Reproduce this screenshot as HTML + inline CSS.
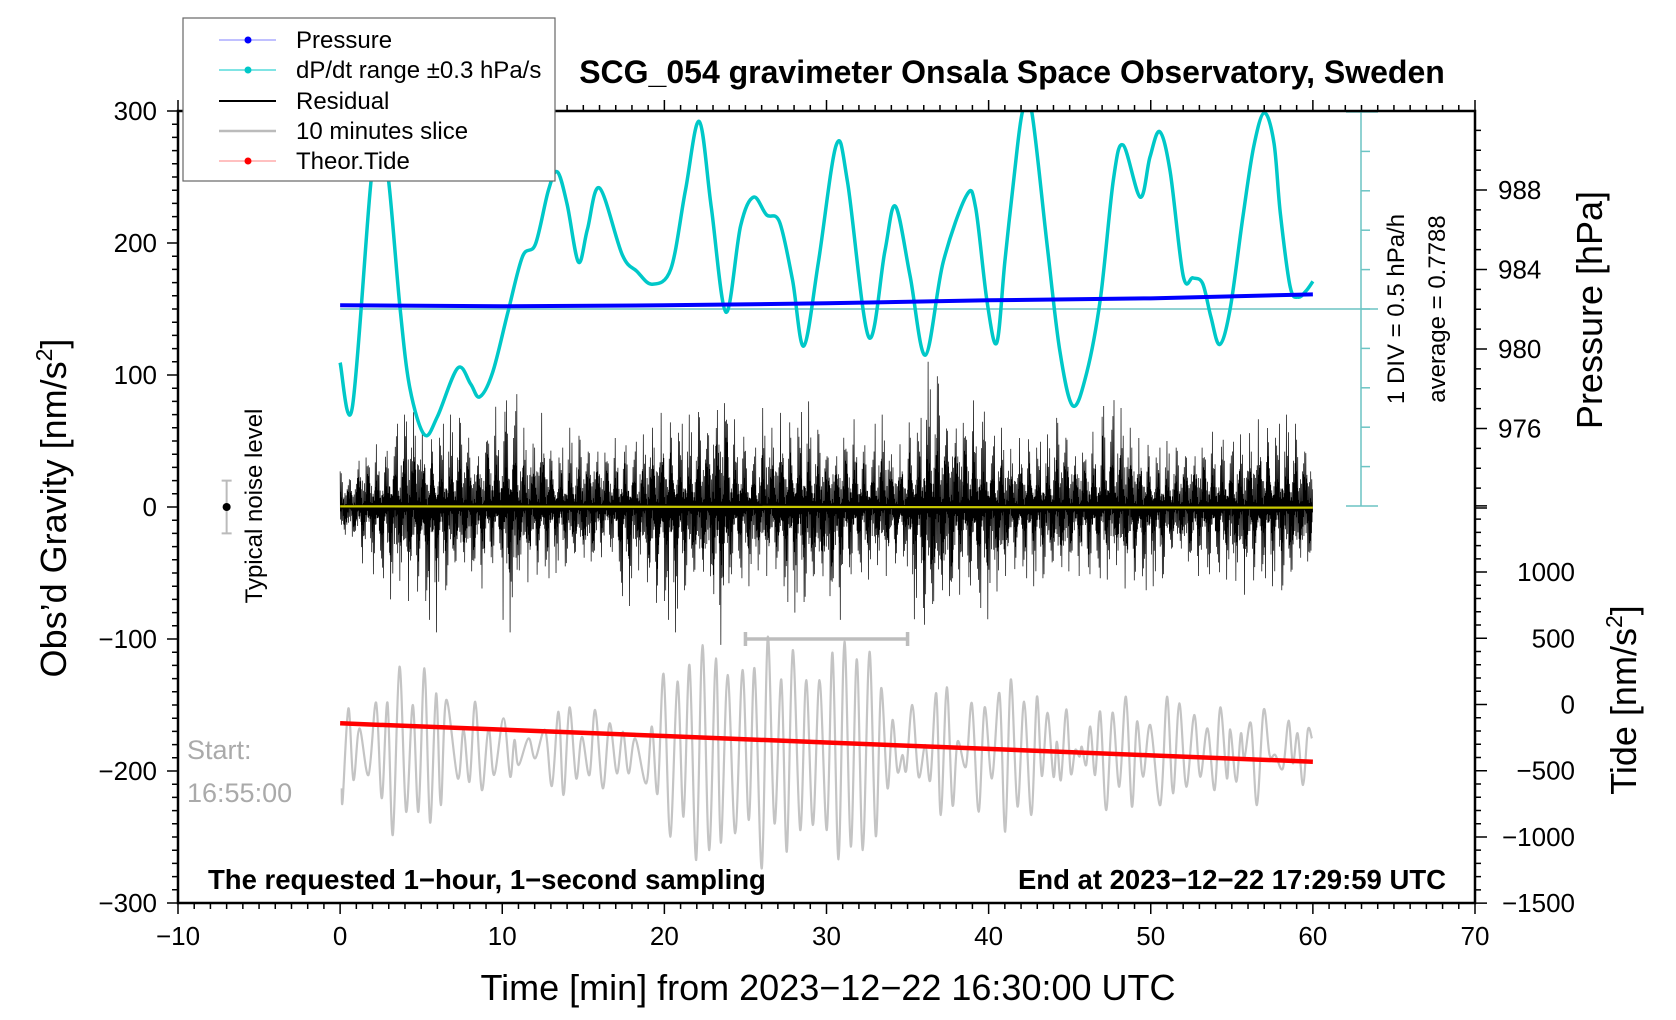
<!DOCTYPE html>
<html><head><meta charset="utf-8"><style>
html,body{margin:0;padding:0;background:#fff;}
svg{display:block;font-family:"Liberation Sans",sans-serif;}
</style></head><body>
<svg id="chart" width="1676" height="1020" viewBox="0 0 1676 1020" xmlns="http://www.w3.org/2000/svg">
<defs><clipPath id="plotclip"><rect x="178" y="111" width="1297" height="792"/></clipPath></defs>
<rect width="1676" height="1020" fill="#fff"/>
<g id="marks" clip-path="url(#plotclip)"></g>
<g id="axes"></g>
</svg>
<script>
// ---- data ----
const xTicks = [-10,0,10,20,30,40,50,60,70];
const xTickLabels = ["\u221210","0","10","20","30","40","50","60","70"];
const yTicks = [300,200,100,0,-100,-200,-300];
const yTickLabels = ["300","200","100","0","\u2212100","\u2212200","\u2212300"];
const pTicks = [988,984,980,976];
const tideTicks = [1000,500,0,-500,-1000,-1500];
const tideTickLabels = ["1000","500","0","\u2212500","\u22121000","\u22121500"];

const pressTime = [0,10,20,30,40,50,60];
const pressVals = [982.2,982.15,982.2,982.3,982.45,982.55,982.75];

const tideTime = [0,10,20,30,40,50,60];
const tideVals = [-142,-190,-238,-287,-335,-384,-432];

const dpTime = [0,0.75,1.9,2.45,3.0,3.7,4.3,5.2,6.0,7.25,8.05,8.6,9.4,10.35,11.25,12.05,12.85,13.4,14.0,14.7,15.25,16.0,17.4,18.3,19.25,20.4,21.3,22.15,22.9,23.8,24.7,25.5,26.3,27.1,27.9,28.6,29.5,30.6,31.3,32.6,33.6,34.25,35.15,36.1,37.2,38.65,39.2,39.9,40.5,41.0,41.6,42.1,42.65,43.6,44.4,45.2,46.05,46.9,47.7,48.3,49.35,49.95,50.55,51.2,52.0,52.6,53.2,53.7,54.25,54.9,55.7,56.35,57.0,57.6,58.0,58.6,59.1,59.6,60];
const dpDiv = [-1.36,-2.50,3.21,4.29,3.21,0.01,-2.00,-3.19,-2.73,-1.50,-1.90,-2.23,-1.62,-0.08,1.33,1.65,3.02,3.48,2.66,1.19,2.02,3.07,1.38,0.96,0.63,1.02,3.02,4.76,2.56,-0.08,2.11,2.84,2.39,2.21,0.74,-0.94,1.19,4.16,3.21,-0.71,1.47,2.61,0.85,-1.17,1.19,2.89,2.56,0.20,-0.86,1.19,3.48,5.03,5.03,1.65,-1.09,-2.46,-1.62,0.28,3.30,4.16,2.84,3.85,4.50,3.48,0.84,0.79,0.65,-0.18,-0.90,0.01,2.39,4.12,4.98,4.21,2.39,0.56,0.30,0.47,0.70];

const resUpper = [30,50,50,70,90,60,70,75,55,80,95,60,75,50,60,60,55,55,55,75,75,70,80,105,70,50,75,75,80,65,55,70,55,70,50,75,110,85,85,85,60,55,60,55,75,55,60,90,75,55,50,50,55,60,60,55,70,70,70,60];
const resLower = [-30,-45,-60,-70,-75,-95,-70,-60,-65,-50,-95,-60,-60,-50,-50,-55,-40,-75,-60,-85,-95,-70,-70,-110,-60,-60,-55,-80,-80,-75,-90,-60,-55,-55,-50,-85,-105,-90,-70,-85,-80,-55,-60,-60,-65,-55,-60,-55,-65,-70,-60,-45,-55,-60,-55,-70,-65,-60,-70,-55];
const resPatternA = [1,0.35,0.7,0.2,0.85,0.45,0.6,0.15,0.9,0.5,0.3,0.75,0.25,0.55,0.4,0.95,0.1];
const resPatternB = [0.9,0.55,1,0.4,0.7,0.3,0.8,0.6,0.45,1,0.35,0.65,0.5];

const sliceTime = [0.10,0.16,0.51,0.82,1.19,1.75,2.22,2.57,2.92,3.25,3.66,4.07,4.48,4.83,5.20,5.55,5.92,6.21,6.54,7.26,7.61,7.98,8.33,8.74,9.15,9.50,10.08,10.49,10.75,11.00,11.62,12.03,12.65,13.06,13.47,13.78,14.15,14.56,14.91,15.38,15.73,16.20,16.62,17.07,17.44,17.79,18.20,18.88,19.23,19.58,19.95,20.36,20.81,21.18,21.55,21.96,22.35,22.76,23.18,23.48,23.90,24.37,24.82,25.21,25.56,26.01,26.38,26.79,27.21,27.55,27.92,28.38,28.75,29.16,29.57,30.02,30.37,30.74,31.11,31.50,31.87,32.24,32.65,33.04,33.37,33.76,34.07,34.38,34.69,34.92,35.29,35.68,36.09,36.40,36.77,37.05,37.42,37.77,38.08,38.60,38.97,39.38,39.75,40.20,40.67,41.02,41.37,41.78,42.19,42.63,42.98,43.28,43.63,44.00,44.21,44.46,44.79,45.07,45.34,45.61,45.75,46.02,46.27,46.57,46.88,47.25,47.64,48.06,48.47,48.84,49.15,49.52,49.97,50.59,51.00,51.37,51.76,52.19,52.68,53.05,53.50,53.94,54.29,54.70,54.90,55.27,55.56,55.77,56.18,56.55,56.96,57.33,57.68,58.15,58.50,58.77,59.06,59.39,59.69,59.94];
const sliceVals = [-213.1,-222.0,-152.5,-206.8,-167.7,-203.0,-148.2,-220.7,-148.2,-248.5,-121.0,-230.8,-150.0,-230.8,-122.2,-239.2,-141.2,-225.8,-146.2,-205.6,-168.5,-208.1,-147.5,-214.4,-167.7,-203.0,-160.1,-204.3,-176.5,-195.5,-175.3,-190.4,-169.0,-211.4,-155.1,-218.2,-151.8,-205.6,-174.0,-203.0,-153.8,-213.1,-163.9,-201.8,-170.2,-201.8,-175.3,-209.4,-166.4,-217.0,-126.5,-249.8,-132.3,-234.6,-119.7,-267.4,-104.6,-259.9,-114.7,-254.3,-127.3,-247.2,-123.5,-237.1,-122.2,-273.8,-98.3,-239.7,-130.6,-261.1,-108.4,-244.7,-131.1,-240.9,-131.1,-244.7,-110.4,-266.9,-102.0,-257.3,-115.4,-259.9,-109.6,-249.3,-137.4,-213.1,-161.4,-200.5,-187.9,-199.3,-150.0,-204.3,-180.3,-206.8,-141.2,-233.3,-136.6,-225.8,-177.8,-196.7,-148.8,-230.8,-151.8,-205.6,-141.2,-246.0,-130.6,-227.0,-147.5,-233.3,-143.7,-203.8,-155.8,-204.3,-177.8,-206.8,-153.3,-201.8,-184.1,-189.2,-181.6,-195.5,-166.4,-203.0,-155.1,-229.6,-155.8,-211.9,-143.7,-227.0,-162.6,-204.3,-165.2,-225.8,-143.7,-216.9,-148.8,-211.9,-157.6,-204.3,-167.7,-214.4,-151.8,-205.6,-168.5,-208.1,-171.5,-190.4,-163.9,-225.8,-153.8,-187.9,-187.9,-198.0,-161.9,-194.2,-171.5,-210.6,-169.0,-175.3];

// ---- scales ----
const X0=178, X1=1475, YT=111, YB=903;
const xS = t => X0 + (t+10)*(X1-X0)/80;
const yS = v => 507 - v*1.32;
const pS = p => 190 + (988-p)*19.875;
const tideS = v => 704.5 - v*0.13244;
const divS = d => 309 - d*39.4;

const NS="http://www.w3.org/2000/svg";
function mk(tag, attrs, parent){const e=document.createElementNS(NS,tag);for(const k in attrs)e.setAttribute(k,attrs[k]);parent.appendChild(e);return e;}
function crPath(pts){let d="M"+pts[0][0].toFixed(1)+","+pts[0][1].toFixed(1);
 for(let i=0;i<pts.length-1;i++){const p0=pts[Math.max(0,i-1)],p1=pts[i],p2=pts[i+1],p3=pts[Math.min(pts.length-1,i+2)];
 const c1=[p1[0]+(p2[0]-p0[0])/6,p1[1]+(p2[1]-p0[1])/6],c2=[p2[0]-(p3[0]-p1[0])/6,p2[1]-(p3[1]-p1[1])/6];
 d+="C"+c1[0].toFixed(1)+","+c1[1].toFixed(1)+" "+c2[0].toFixed(1)+","+c2[1].toFixed(1)+" "+p2[0].toFixed(1)+","+p2[1].toFixed(1);}
 return d;}

const marks=document.getElementById('marks');
const axes=document.getElementById('axes');

const teal="#6cc4c4";
let e;
e=mk('line',{x1:xS(0),x2:1378,y1:divS(0),y2:divS(0),stroke:teal,'stroke-width':1.5},marks);


e=mk('line',{x1:1361,x2:1361,y1:divS(5),y2:divS(-5),stroke:teal,'stroke-width':1.5},marks);


for(let d=-5;d<=5;d++){
 const major=(d===5||d===-5);
 e=mk('line',{x1:major?1346:1361,x2:major?1378:1370,y1:divS(d),y2:divS(d),stroke:teal,'stroke-width':1.5},marks);
 
 
}

// gray slice
e=mk('path',{d:crPath(sliceTime.map((t,i)=>[xS(t),yS(sliceVals[i])])),fill:'none',stroke:'#c4c4c4','stroke-width':2.2},marks);


e=mk('path',{d:`M${xS(25)},632V646M${xS(25)},639H${xS(35)}M${xS(35)},632V646`,stroke:'#bdbdbd','stroke-width':3.5,fill:'none'},marks);



// residual
let rd="";
for(let i=0;i<3600;i++){
 const m=Math.min(59,Math.floor(i/60));
 const f=resPatternA[i%resPatternA.length]*resPatternB[Math.floor(i/2)%resPatternB.length];
 const v=(i%2===0?resUpper[m]:resLower[m])*f;
 rd+=(i===0?"M":"L")+xS(i/60).toFixed(2)+","+yS(v).toFixed(1);
}
e=mk('path',{d:rd,fill:'none',stroke:'#000','stroke-width':0.7},marks);


e=mk('line',{x1:xS(0),x2:xS(60),y1:yS(0.5),y2:yS(-0.5),stroke:'#c8c800','stroke-width':2.2},marks);



// red tide
e=mk('polyline',{points:tideTime.map((t,i)=>xS(t)+","+tideS(tideVals[i])).join(" "),fill:'none',stroke:'#ff0000','stroke-width':4.5},marks);



// cyan dP/dt
e=mk('path',{d:crPath(dpTime.map((t,i)=>[xS(t),divS(dpDiv[i])])),fill:'none',stroke:'#00c8c8','stroke-width':3.5},marks);



// pressure
e=mk('polyline',{points:pressTime.map((t,i)=>xS(t)+","+pS(pressVals[i])).join(" "),fill:'none',stroke:'#0000ff','stroke-width':4},marks);



// noise marker
e=mk('path',{d:`M${xS(-7)},${yS(20)}V${yS(-20)}M${xS(-7)-5},${yS(20)}H${xS(-7)+5}M${xS(-7)-5},${yS(-20)}H${xS(-7)+5}`,stroke:'#bbb','stroke-width':2,fill:'none'},marks);


e=mk('circle',{cx:xS(-7),cy:yS(0),r:4,fill:'#000'},marks);



// ---- axes ----
e=mk('rect',{x:X0,y:YT,width:X1-X0,height:YB-YT,fill:'none',stroke:'#000','stroke-width':2.5},axes);


let tk="";
for(let t=-10;t<=70;t++){const x=xS(t),L=(t%10===0)?11:6;tk+=`M${x},${YB}v${L}M${x},${YT}v${-L}`;}
for(let v=-300;v<=300;v+=10){const y=yS(v),L=(v%100===0)?11:6;tk+=`M${X0},${y}h${-L}`;}
for(let p=972;p<=991;p++){const y=pS(p),L=(p%4===0)?12:6;tk+=`M${X1},${y}h${L}`;}
for(let v=-1500;v<=1500;v+=100){const y=tideS(v),L=(v%500===0)?12:6;tk+=`M${X1},${y}h${L}`;}
e=mk('path',{d:tk,stroke:'#000','stroke-width':1.5,fill:'none'},axes);



function txt(s,attrs,name){const t=mk('text',attrs,axes);t.textContent=s;return t;}
xTicks.forEach((t,i)=>txt(xTickLabels[i],{x:xS(t),y:945,'font-size':26,'text-anchor':'middle'},'x-tick-label'));
yTicks.forEach((v,i)=>txt(yTickLabels[i],{x:157,y:yS(v)+9,'font-size':26,'text-anchor':'end'},'y-tick-label'));
pTicks.forEach(p=>txt(String(p),{x:1498,y:pS(p)+9,'font-size':26},'pressure-tick-label'));
tideTicks.forEach((v,i)=>txt(tideTickLabels[i],{x:1575,y:tideS(v)+9,'font-size':26,'text-anchor':'end'},'tide-tick-label'));
</script>
<div style="position:absolute;left:0;top:0;width:1676px;height:1020px;pointer-events:none;">
<svg width="1676" height="1020" style="position:absolute;left:0;top:0;font-family:'Liberation Sans',sans-serif;">
<text x="1012" y="83" font-size="32" font-weight="bold" text-anchor="middle">SCG_054 gravimeter Onsala Space Observatory, Sweden</text>
<text x="828" y="1000" font-size="36" text-anchor="middle">Time [min] from 2023−12−22 16:30:00 UTC</text>
<text transform="translate(66,508) rotate(-90)" font-size="36" text-anchor="middle">Obs’d Gravity [nm/s<tspan font-size="23" dy="-14">2</tspan><tspan dy="14">]</tspan></text>
<text transform="translate(1602,310) rotate(-90)" font-size="36" text-anchor="middle">Pressure [hPa]</text>
<text transform="translate(1636,700) rotate(-90)" font-size="36" text-anchor="middle">Tide [nm/s<tspan font-size="23" dy="-14">2</tspan><tspan dy="14">]</tspan></text>
<text transform="translate(1404,309) rotate(-90)" font-size="24" text-anchor="middle">1 DIV = 0.5 hPa/h</text>
<text transform="translate(1445,309) rotate(-90)" font-size="24" text-anchor="middle">average = 0.7788</text>
<text transform="translate(262,506) rotate(-90)" font-size="24" text-anchor="middle">Typical noise level</text>
<text x="208" y="889" font-size="27.5" font-weight="bold">The requested 1−hour, 1−second sampling</text>
<text x="1446" y="889" font-size="27.5" font-weight="bold" text-anchor="end">End at 2023−12−22 17:29:59 UTC</text>
<text x="187" y="759" font-size="27" fill="#aaaaaa">Start:</text>
<text x="187" y="802" font-size="27" fill="#aaaaaa">16:55:00</text>
<g>
<rect x="183" y="18" width="372" height="163" fill="#fff" stroke="#666" stroke-width="1.2"/>
<g><line x1="219" x2="276" y1="40" y2="40" stroke="#8080ff" stroke-width="1"/><circle cx="248" cy="40" r="3.5" fill="#0000ff"/><text x="296" y="48" font-size="24">Pressure</text></g>
<g><line x1="219" x2="276" y1="70" y2="70" stroke="#00c8c8" stroke-width="1"/><circle cx="248" cy="70" r="3.5" fill="#00c8c8"/><text x="296" y="78" font-size="24">dP/dt range ±0.3 hPa/s</text></g>
<g><line x1="219" x2="276" y1="101" y2="101" stroke="#000" stroke-width="2"/><text x="296" y="109" font-size="24">Residual</text></g>
<g><line x1="219" x2="276" y1="131" y2="131" stroke="#bbb" stroke-width="2.5"/><text x="296" y="139" font-size="24">10 minutes slice</text></g>
<g><line x1="219" x2="276" y1="161" y2="161" stroke="#ff8080" stroke-width="1"/><circle cx="248" cy="161" r="3.5" fill="#ff0000"/><text x="296" y="169" font-size="24">Theor.Tide</text></g>
</g>
</svg>
</div>
</body></html>
